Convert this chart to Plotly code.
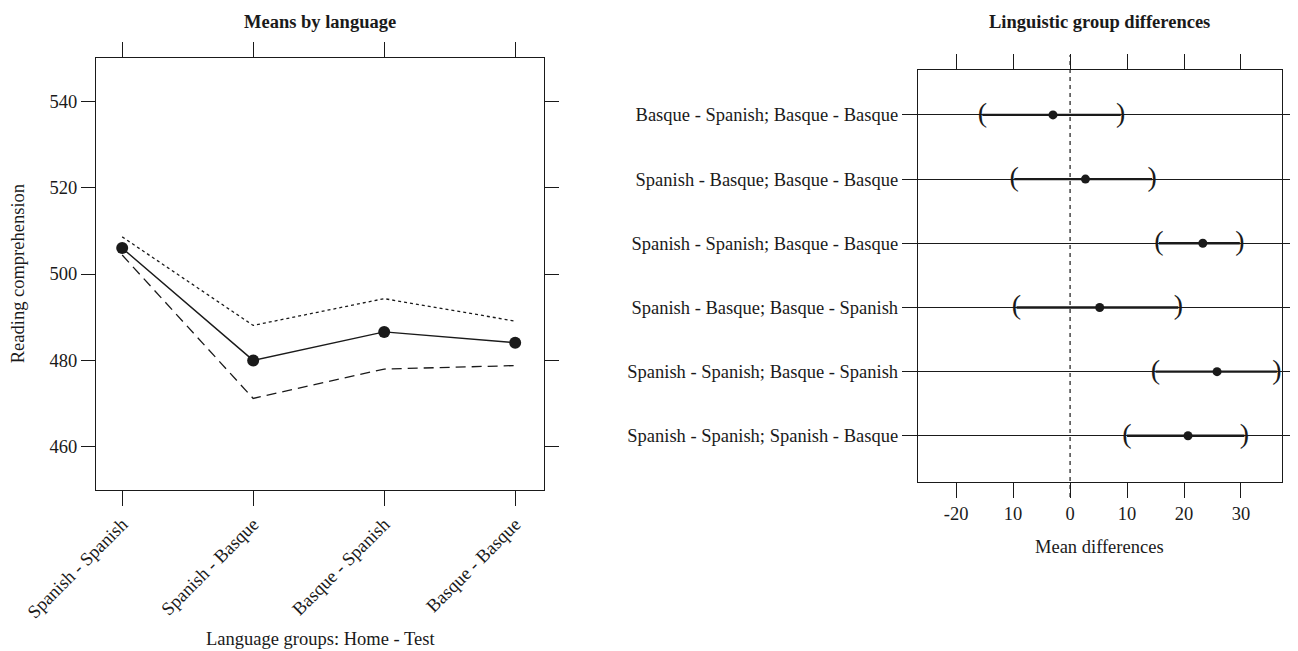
import plotly.graph_objects as go

# ---- Left panel data ----
groups = ["Spanish - Spanish", "Spanish - Basque", "Basque - Spanish", "Basque - Basque"]
means = [506.0, 480.0, 486.6, 484.1]
upper = [508.6, 488.1, 494.3, 489.1]
lower = [504.4, 471.2, 478.0, 478.8]
y_ticks_left = [460, 480, 500, 520, 540]

# ---- Right panel data ----
comparisons = [
    "Spanish - Spanish; Spanish - Basque",
    "Spanish - Spanish; Basque - Spanish",
    "Spanish - Basque; Basque - Spanish",
    "Spanish - Spanish; Basque - Basque",
    "Spanish - Basque; Basque - Basque",
    "Basque - Spanish; Basque - Basque",
]
diff_est = [20.7, 25.8, 5.2, 23.3, 2.7, -3.0]
diff_lo = [10.0, 15.0, -9.4, 15.6, -9.8, -15.4]
diff_hi = [30.6, 36.3, 19.0, 29.8, 14.4, 8.9]
x_tickvals_right = [-20, -10, 0, 10, 20, 30]
x_ticktext_right = ["-20", "10", "0", "10", "20", "30"]

INK = "#1a1a1a"
FONT = "Liberation Serif"
FS = 18.5

fig = go.Figure()

# Left panel lines
fig.add_trace(go.Scatter(x=groups, y=upper, mode="lines",
                         line=dict(color=INK, width=1.3, dash="dot"),
                         xaxis="x", yaxis="y", showlegend=False))
fig.add_trace(go.Scatter(x=groups, y=lower, mode="lines",
                         line=dict(color=INK, width=1.3, dash="10px,6px"),
                         xaxis="x", yaxis="y", showlegend=False))
fig.add_trace(go.Scatter(x=groups, y=means, mode="lines+markers",
                         line=dict(color=INK, width=1.4),
                         marker=dict(color=INK, size=12),
                         xaxis="x", yaxis="y", showlegend=False))

# Right panel: interval segments
seg_x, seg_y = [], []
for c, lo, hi in zip(comparisons, diff_lo, diff_hi):
    seg_x += [lo, hi, None]
    seg_y += [c, c, None]
fig.add_trace(go.Scatter(x=seg_x, y=seg_y, mode="lines",
                         line=dict(color=INK, width=2.4),
                         xaxis="x2", yaxis="y2", showlegend=False))
fig.add_trace(go.Scatter(x=diff_lo, y=comparisons, mode="text", text=["("] * len(comparisons),
                         textfont=dict(family=FONT, size=28, color=INK),
                         textposition="middle center",
                         xaxis="x2", yaxis="y2", showlegend=False))
fig.add_trace(go.Scatter(x=diff_hi, y=comparisons, mode="text", text=[")"] * len(comparisons),
                         textfont=dict(family=FONT, size=28, color=INK),
                         textposition="middle center",
                         xaxis="x2", yaxis="y2", showlegend=False))
fig.add_trace(go.Scatter(x=diff_est, y=comparisons, mode="markers",
                         marker=dict(color=INK, size=9),
                         xaxis="x2", yaxis="y2", showlegend=False))

axis_common = dict(showline=True, linecolor=INK, linewidth=1.3, mirror="ticks",
                   ticks="outside", tickcolor=INK, tickwidth=1.2, zeroline=False,
                   showgrid=False, automargin=False,
                   tickfont=dict(family=FONT, size=FS, color=INK))

fig.update_layout(
    width=1290, height=643,
    margin=dict(l=0, r=0, t=0, b=0),
    paper_bgcolor="white", plot_bgcolor="white",
    font=dict(family=FONT, color=INK),
    xaxis=dict(axis_common, domain=[0.0682, 0.4155], anchor="y",
               type="category", categoryorder="array", categoryarray=groups,
               range=[-0.2, 3.22], tickangle=-45, ticklen=15),
    yaxis=dict(axis_common, domain=[0.2504, 0.9222], anchor="x",
               range=[450, 550], tickvals=y_ticks_left, ticklen=14),
    xaxis2=dict(axis_common, domain=[0.7054, 0.9876], anchor="y2",
                range=[-26.7, 37.2], tickvals=x_tickvals_right,
                ticktext=x_ticktext_right, ticklen=15),
    yaxis2=dict(axis_common, domain=[0.2628, 0.9036], anchor="x2",
                type="category", categoryorder="array", categoryarray=comparisons,
                range=[-0.72, 5.7], ticklen=15, showgrid=True,
                gridcolor=INK, gridwidth=1),
)

# reference line at zero
fig.add_shape(type="line", xref="x2", yref="paper", x0=0, x1=0,
              y0=0.2395, y1=0.927, line=dict(color=INK, width=1.2, dash="4px,4px"))

ann = [
    dict(text="<b>Means by language</b>", x=0.2419, y=0.978, size=FS, angle=0),
    dict(text="<b>Linguistic group differences</b>", x=0.8465, y=0.978, size=FS, angle=0),
    dict(text="Reading comprehension", x=0.0078, y=0.586, size=FS, angle=-90),
    dict(text="Language groups: Home - Test", x=0.2419, y=0.0187, size=FS, angle=0),
    dict(text="Mean differences", x=0.8465, y=0.1617, size=FS, angle=0),
]
for a in ann:
    fig.add_annotation(text=a["text"], x=a["x"], y=a["y"], xref="paper", yref="paper",
                       showarrow=False, textangle=a["angle"],
                       font=dict(family=FONT, size=a["size"], color=INK),
                       xanchor="center", yanchor="middle")

fig.write_html("out.html")
